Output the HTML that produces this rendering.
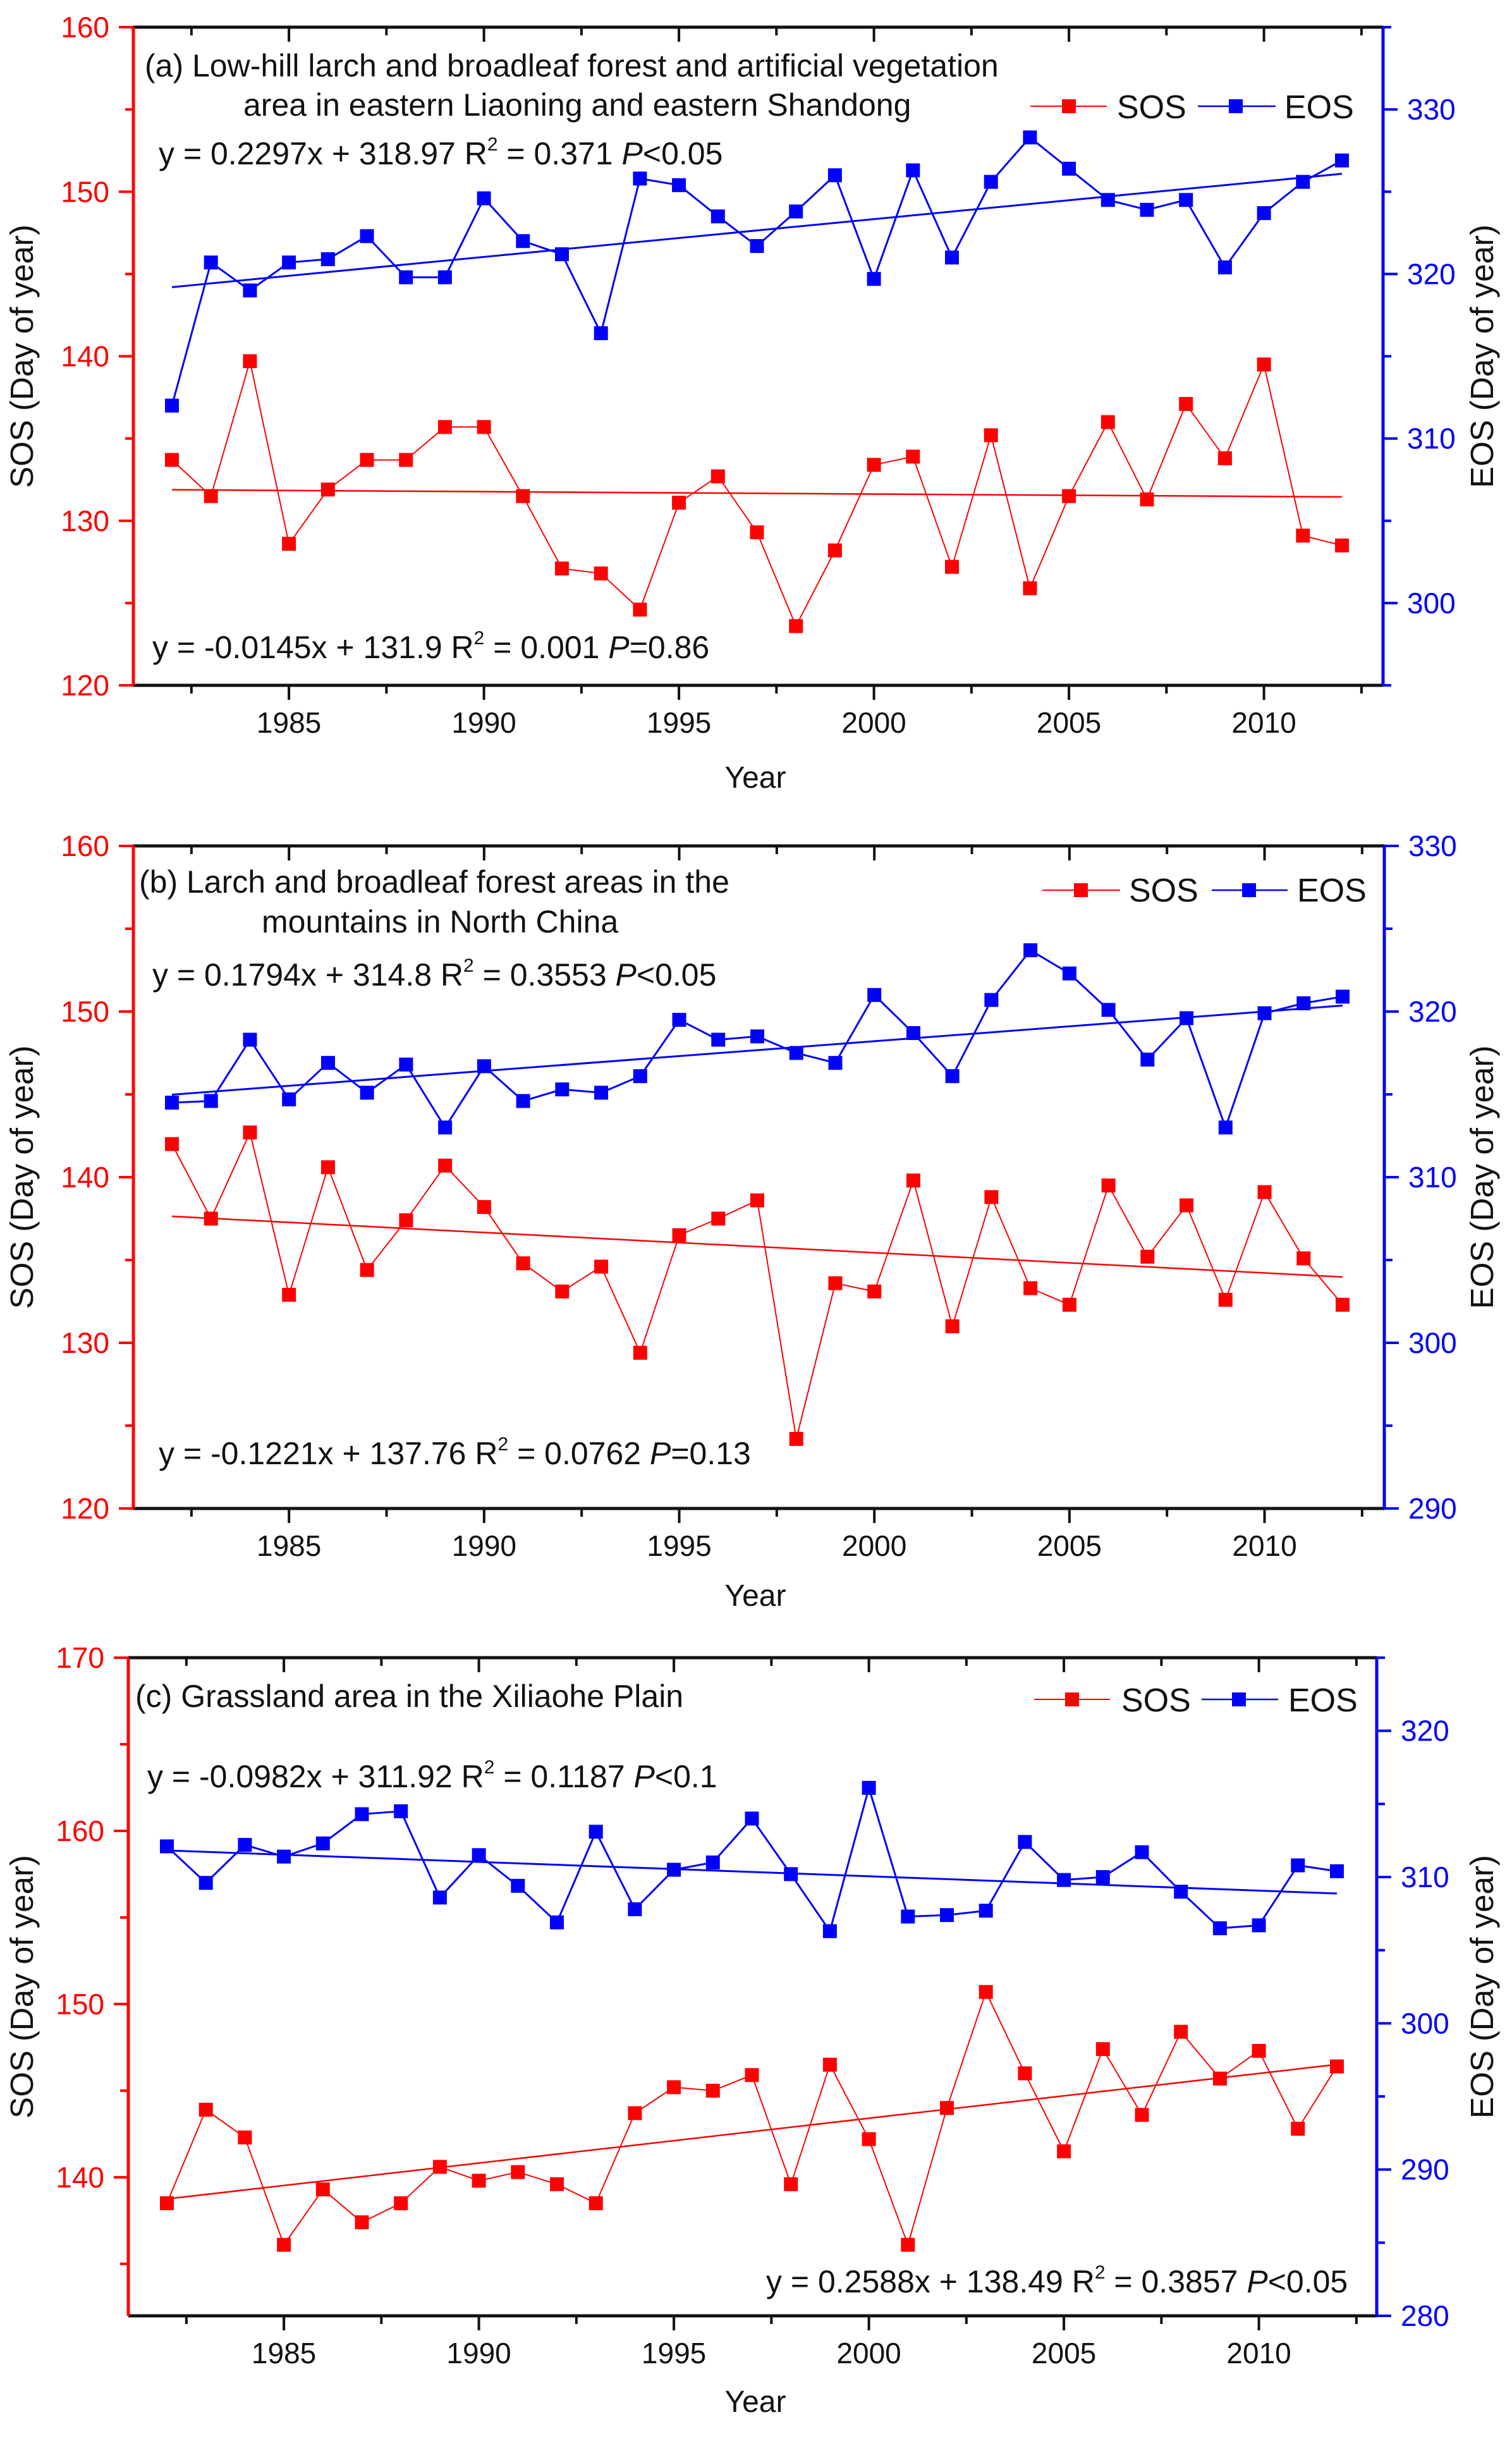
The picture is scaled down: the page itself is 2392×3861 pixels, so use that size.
<!DOCTYPE html>
<html><head><meta charset="utf-8"><title>SOS and EOS trends, 1982–2012</title>
<style>
html,body{margin:0;padding:0;background:#fff;}
svg{display:block;font-family:"Liberation Sans",Arial,sans-serif;}
</style></head>
<body>
<svg id="fig" width="2392" height="3861" viewBox="0 0 2392 3861" xmlns="http://www.w3.org/2000/svg">
<rect x="0" y="0" width="2392" height="3861" fill="#fff"/>
</svg>
<script>
// ---------- data ----------
const years = [1982,1983,1984,1985,1986,1987,1988,1989,1990,1991,1992,1993,1994,1995,1996,1997,1998,1999,2000,2001,2002,2003,2004,2005,2006,2007,2008,2009,2010,2011,2012];
const sosA = [133.7,131.5,139.7,128.6,131.9,133.7,133.7,135.7,135.7,131.5,127.1,126.8,124.6,131.1,132.7,129.3,123.6,128.2,133.4,133.9,127.2,135.2,125.9,131.5,136.0,131.3,137.1,133.8,139.5,129.1,128.5];
const eosA = [312.0,320.7,319.0,320.7,320.9,322.3,319.8,319.8,324.6,322.0,321.2,316.4,325.8,325.4,323.5,321.7,323.8,326.0,319.7,326.3,321.0,325.6,328.3,326.4,324.5,323.9,324.5,320.4,323.7,325.6,326.9];
const sosB = [142.0,137.5,142.7,132.9,140.6,134.4,137.4,140.7,138.2,134.8,133.1,134.6,129.4,136.5,137.5,138.6,124.2,133.6,133.1,139.8,131.0,138.8,133.3,132.3,139.5,135.2,138.3,132.6,139.1,135.1,132.3];
const eosB = [314.5,314.6,318.3,314.7,316.9,315.1,316.8,313.0,316.7,314.6,315.3,315.1,316.1,319.5,318.3,318.5,317.5,316.9,321.0,318.7,316.1,320.7,323.7,322.3,320.1,317.1,319.6,313.0,319.9,320.5,320.9];
const sosC = [138.5,143.9,142.3,136.1,139.3,137.4,138.5,140.6,139.8,140.3,139.6,138.5,143.7,145.2,145.0,145.9,139.6,146.5,142.2,136.1,144.0,150.7,146.0,141.5,147.4,143.6,148.4,145.7,147.3,142.8,146.4];
const eosC = [312.1,309.6,312.2,311.4,312.3,314.3,314.5,308.6,311.5,309.4,306.9,313.1,307.8,310.5,311.0,314.0,310.2,306.3,316.1,307.3,307.4,307.7,312.4,309.8,310.0,311.7,309.0,306.5,306.7,310.8,310.4];
// trend coefficients (x = 1..31)
const sosSlope = [-0.0145,-0.1221,0.2588];
const sosIntercept = [131.9,137.76,138.49];
const eosSlope = [0.2297,0.1794,-0.0982];
const eosIntercept = [318.97,314.8,311.92];
// axis tick labels
const sosTickLabelsA = [120,130,140,150,160];
const sosTickLabelsB = [120,130,140,150,160];
const sosTickLabelsC = [140,150,160,170];
const eosTickLabelsA = [300,310,320,330];
const eosTickLabelsB = [290,300,310,320,330];
const eosTickLabelsC = [280,290,300,310,320];
const yearTickLabels = [1985,1990,1995,2000,2005,2010];

// ---------- layout ----------
const NS = "http://www.w3.org/2000/svg";
const svg = document.getElementById('fig');
function mk(tag, attrs, parent){
  const e = document.createElementNS(NS, tag);
  for (const k in attrs) e.setAttribute(k, attrs[k]);
  (parent||svg).appendChild(e);
  return e;
}
const RED = "#ff0000", BLUE = "#0000ff";

const panels = [
 {id:'a', top:43, bottom:1084, left:211, right:2188, x0:272, x1:2123,
  sosMin:120, sosMax:160, eosMin:295, eosMax:335, sos:sosA, eos:eosA,
  sosTicks:sosTickLabelsA, eosTicks:eosTickLabelsA,
  title:[["(a) Low-hill larch and broadleaf forest and artificial vegetation",229,121],["area in eastern Liaoning and eastern Shandong",385,183]],
  eqE:["y = 0.2297x + 318.97 R","2"," = 0.371 ","P","<0.05",251,260],
  eqS:["y = -0.0145x + 131.9 R","2"," = 0.001 ","P","=0.86",241,1041],
  leg:{y:168, tb:187, sl:1630, sr:1751, sm:1691, st:1767, el:1895, er:2018, em:1955, et:2032},
  yearY:1246},
 {id:'b', top:1338, bottom:2386, left:211, right:2190, x0:272, x1:2124,
  sosMin:120, sosMax:160, eosMin:290, eosMax:330, sos:sosB, eos:eosB,
  sosTicks:sosTickLabelsB, eosTicks:eosTickLabelsB,
  title:[["(b) Larch and broadleaf forest areas in the",220,1412],["mountains in North China",414,1475]],
  eqE:["y = 0.1794x + 314.8 R","2"," = 0.3553 ","P","<0.05",241,1559],
  eqS:["y = -0.1221x + 137.76 R","2"," = 0.0762 ","P","=0.13",251,2316],
  leg:{y:1408, tb:1426, sl:1649, sr:1772, sm:1710, st:1786, el:1917, er:2037, em:1976, et:2052},
  yearY:2540},
 {id:'c', top:2622, bottom:3663, left:203, right:2178, x0:264, x1:2115,
  sosMin:132, sosMax:170, eosMin:280, eosMax:325, sos:sosC, eos:eosC,
  sosTicks:sosTickLabelsC, eosTicks:eosTickLabelsC,
  title:[["(c) Grassland area in the Xiliaohe Plain",214,2700]],
  eqE:["y = -0.0982x + 311.92 R","2"," = 0.1187 ","P","<0.1",233,2827],
  eqS:["y = 0.2588x + 138.49 R","2"," = 0.3857 ","P","<0.05",1212,3626],
  leg:{y:2688, tb:2707, sl:1636, sr:1756, sm:1696, st:1774, el:1901, er:2022, em:1960, et:2038},
  yearY:3815}
];

panels.forEach((p, pi) => {
  const g = mk('g', {});
  
  
  const xs = yr => p.x0 + (yr - 1982) * (p.x1 - p.x0) / 30;
  const ys = v => p.bottom - (v - p.sosMin) * (p.bottom - p.top) / (p.sosMax - p.sosMin);
  const ye = v => p.bottom - (v - p.eosMin) * (p.bottom - p.top) / (p.eosMax - p.eosMin);

  for (let yr = 1982.5; yr <= 2013; yr += 2.5) {
    const major = Math.abs(yr % 5) < 0.01;
    const x = xs(yr);
    if (x < p.left + 2 || x > p.right - 2) continue;
    const L = major ? 23 : 13;
    const t1 = mk('line', {x1:x, x2:x, y1:p.bottom, y2:p.bottom + L, stroke:'#111', 'stroke-width':4}, g);
    
    
    const t2 = mk('line', {x1:x, x2:x, y1:p.top, y2:p.top + L, stroke:'#111', 'stroke-width':4}, g);
    
    
  }
  yearTickLabels.forEach(yr => {
    const t = mk('text', {x:xs(yr), y:p.bottom + 75, 'font-size':46, 'text-anchor':'middle', fill:'#111'}, g);
    t.textContent = yr;
    
    
  });
  for (let v = Math.ceil(p.sosMin / 5) * 5; v <= p.sosMax; v += 5) {
    const major = v % 10 === 0;
    const y = ys(v);
    const t = mk('line', {x1:p.left - (major ? 23 : 13), x2:p.left, y1:y, y2:y, stroke:RED, 'stroke-width':4}, g);
    
    
  }
  p.sosTicks.forEach(v => {
    const t = mk('text', {x:p.left - 38, y:ys(v) + 16, 'font-size':46, 'text-anchor':'end', fill:RED}, g);
    t.textContent = v;
    
    
  });
  for (let v = Math.ceil(p.eosMin / 5) * 5; v <= p.eosMax; v += 5) {
    const major = v % 10 === 0;
    const y = ye(v);
    const t = mk('line', {x1:p.right, x2:p.right + (major ? 23 : 13), y1:y, y2:y, stroke:BLUE, 'stroke-width':4}, g);
    
    
  }
  p.eosTicks.forEach(v => {
    const t = mk('text', {x:p.right + 38, y:ye(v) + 16, 'font-size':46, 'text-anchor':'start', fill:BLUE}, g);
    t.textContent = v;
    
    
  });
  const ax1 = mk('line', {x1:p.left, x2:p.right, y1:p.top, y2:p.top, stroke:'#111', 'stroke-width':5}, g);
   
  const ax2 = mk('line', {x1:p.left, x2:p.right, y1:p.bottom, y2:p.bottom, stroke:'#111', 'stroke-width':5}, g);
   
  const ax3 = mk('line', {x1:p.left, x2:p.left, y1:p.top, y2:p.bottom, stroke:RED, 'stroke-width':5}, g);
   
  const ax4 = mk('line', {x1:p.right, x2:p.right, y1:p.top, y2:p.bottom, stroke:BLUE, 'stroke-width':5}, g);
   

  const midY = (p.top + p.bottom) / 2;
  const st = mk('text', {x:0, y:0, 'font-size':51, 'text-anchor':'middle', fill:'#111', transform:`translate(52 ${midY}) rotate(-90)`}, g);
  st.textContent = 'SOS (Day of year)';
   
  const et = mk('text', {x:0, y:0, 'font-size':51, 'text-anchor':'middle', fill:'#111', transform:`translate(2362 ${midY}) rotate(-90)`}, g);
  et.textContent = 'EOS (Day of year)';
   
  const yt = mk('text', {x:1195, y:p.yearY, 'font-size':48, 'text-anchor':'middle', fill:'#111'}, g);
  yt.textContent = 'Year';
   

  const sl = sosSlope[pi], si = sosIntercept[pi], el = eosSlope[pi], ei = eosIntercept[pi];
  const tS = mk('line', {x1:xs(1982), x2:xs(2012), y1:ys(sl*1+si), y2:ys(sl*31+si), stroke:RED, 'stroke-width':2.5}, g);
   
  const tE = mk('line', {x1:xs(1982), x2:xs(2012), y1:ye(el*1+ei), y2:ye(el*31+ei), stroke:BLUE, 'stroke-width':3}, g);
   

  const ptsS = years.map((yr, i) => xs(yr) + ',' + ys(p.sos[i])).join(' ');
  const lS = mk('polyline', {points:ptsS, fill:'none', stroke:RED, 'stroke-width':2}, g);
   
  const ptsE = years.map((yr, i) => xs(yr) + ',' + ye(p.eos[i])).join(' ');
  const lE = mk('polyline', {points:ptsE, fill:'none', stroke:BLUE, 'stroke-width':3}, g);
   
  years.forEach((yr, i) => {
    const m1 = mk('rect', {x:xs(yr) - 11, y:ys(p.sos[i]) - 11, width:22, height:22, fill:RED}, g);
    
    
    const m2 = mk('rect', {x:xs(yr) - 11, y:ye(p.eos[i]) - 11, width:22, height:22, fill:BLUE}, g);
    
    
  });

  p.title.forEach(tl => {
    const t = mk('text', {x:tl[1], y:tl[2], 'font-size':50, fill:'#111'}, g);
    t.textContent = tl[0];
    
    
  });
  [[p.eqE, 'eos-equation'], [p.eqS, 'sos-equation']].forEach(([q, nm]) => {
    const t = mk('text', {x:q[5], y:q[6], 'font-size':50, fill:'#111'}, g);
    
    
    const a = mk('tspan', {}, t); a.textContent = q[0];
    const b = mk('tspan', {'font-size':30, dy:-22}, t); b.textContent = q[1];
    const c = mk('tspan', {dy:22}, t); c.textContent = q[2];
    const d = mk('tspan', {'font-style':'italic'}, t); d.textContent = q[3];
    const e = mk('tspan', {}, t); e.textContent = q[4];
  });
  const L = p.leg;
  const lg = mk('g', {}, g);
  
  
  mk('line', {x1:L.sl, x2:L.sr, y1:L.y, y2:L.y, stroke:RED, 'stroke-width':2}, lg);
  mk('rect', {x:L.sm - 11, y:L.y - 11, width:22, height:22, fill:RED}, lg);
  const ls = mk('text', {x:L.st, y:L.tb, 'font-size':52, fill:'#111'}, lg);
  ls.textContent = 'SOS';
   
  mk('line', {x1:L.el, x2:L.er, y1:L.y, y2:L.y, stroke:BLUE, 'stroke-width':2.5}, lg);
  mk('rect', {x:L.em - 11, y:L.y - 11, width:22, height:22, fill:BLUE}, lg);
  const le = mk('text', {x:L.et, y:L.tb, 'font-size':52, fill:'#111'}, lg);
  le.textContent = 'EOS';
   
});
</script>
</body></html>
